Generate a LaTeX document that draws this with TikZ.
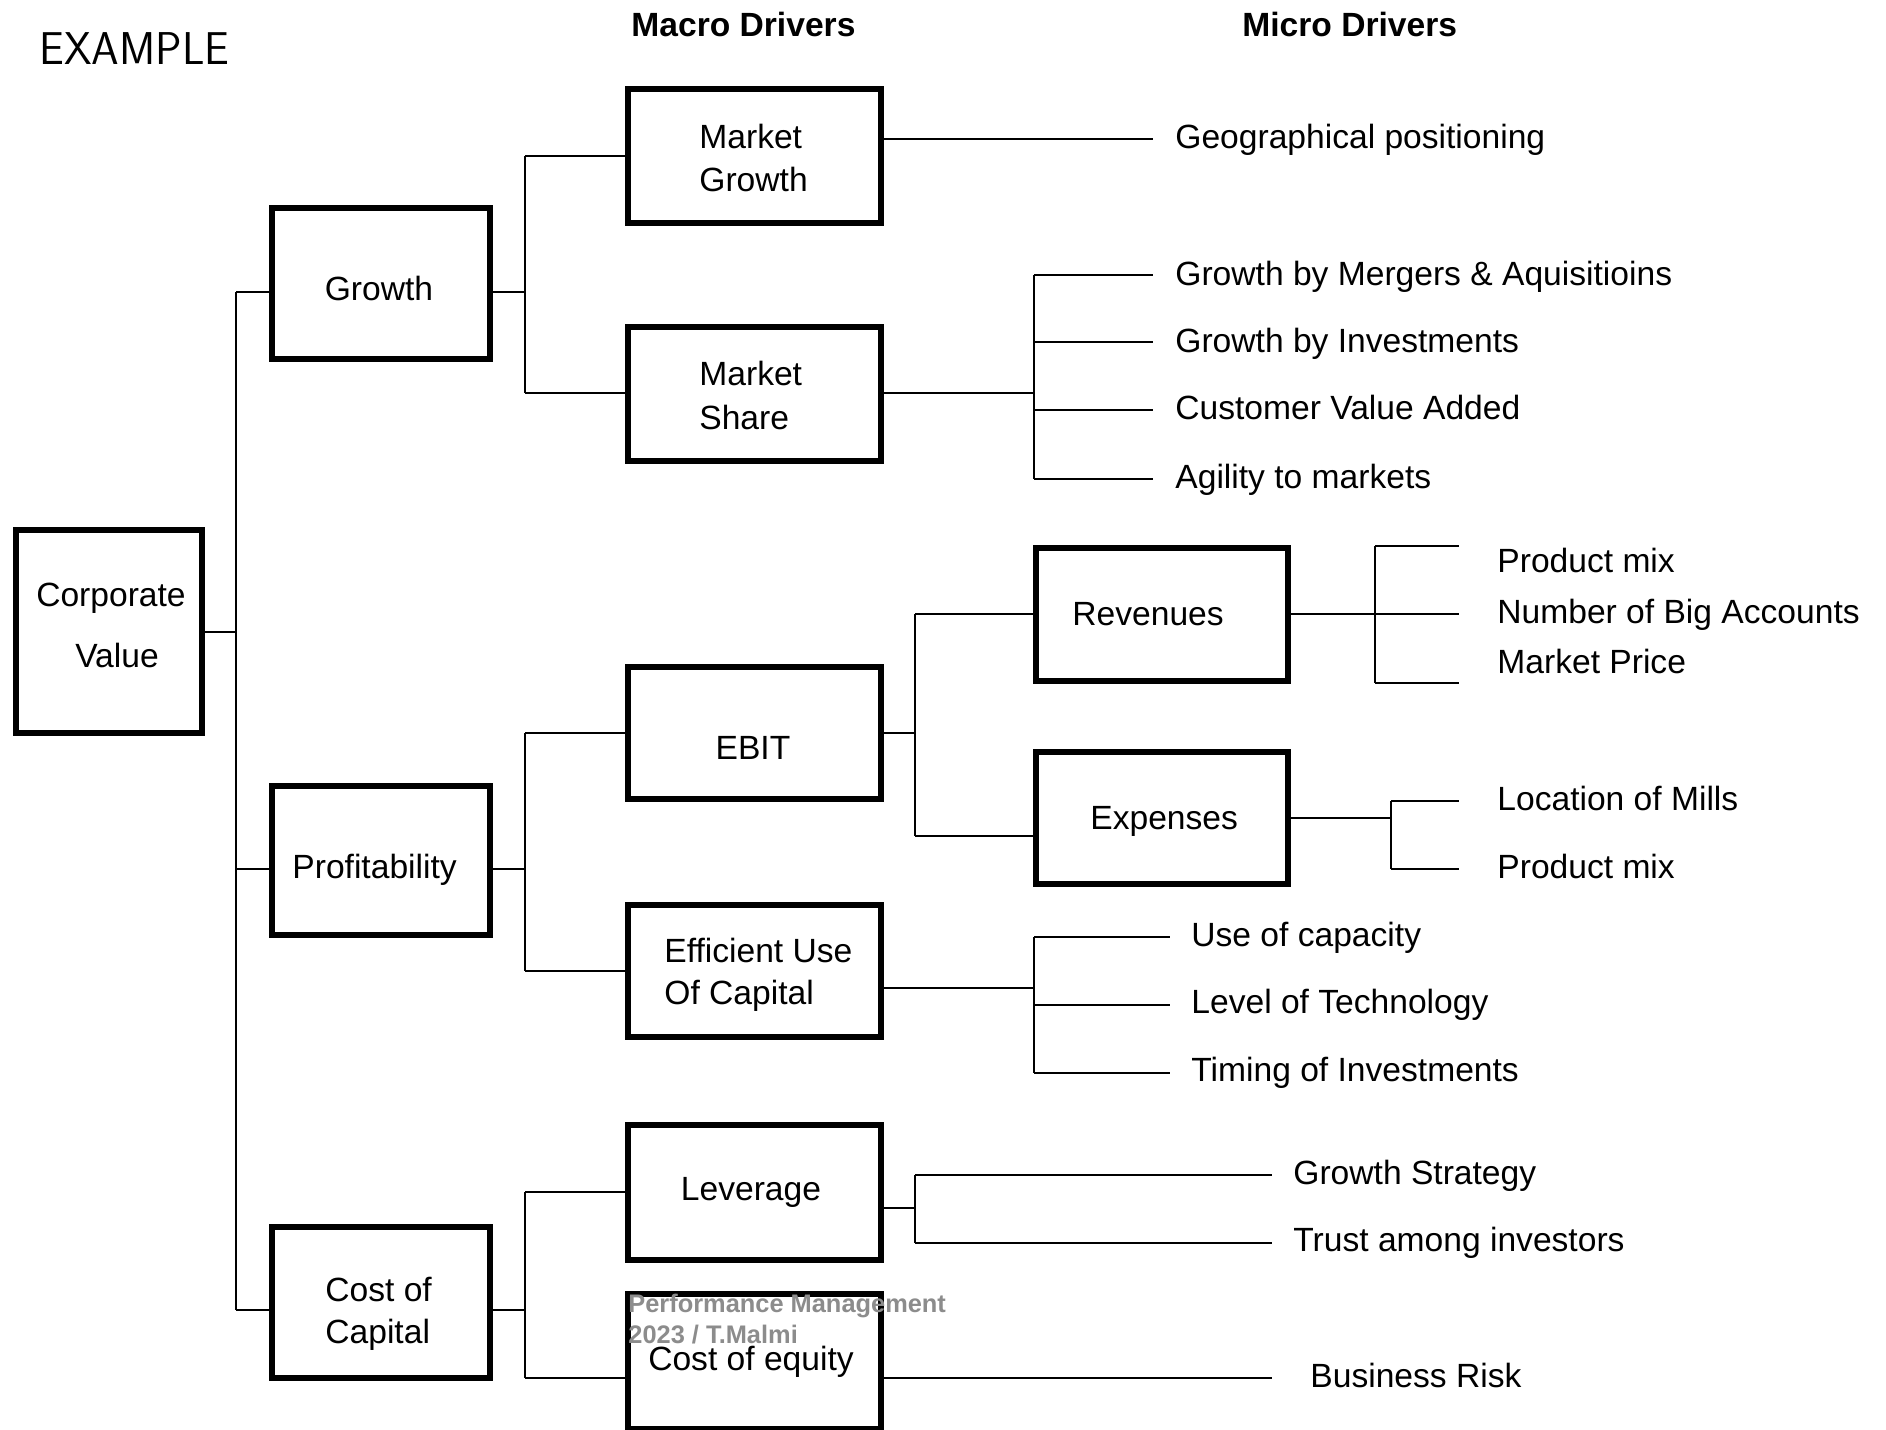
\documentclass[tikz,border=0pt]{standalone}
\usepackage{graphicx}
\usepackage{fontspec}
\setmainfont{Liberation Sans}
\definecolor{wmgray}{RGB}{140,140,140}
\begin{document}
\begin{tikzpicture}[x=0.5pt,y=-0.5pt,
  box/.style 2 args={draw=black, line width=3pt, fill=white, inner sep=0pt,
    minimum width={(#1-6)*0.5pt}, minimum height={(#2-6)*0.5pt}},
  conn/.style={line width=1.1pt, draw=black},
  txt/.style={inner sep=0pt, anchor=base west, font=\fontsize{16.8pt}{20pt}\selectfont},
  ctxt/.style={txt, anchor=base},
  hdr/.style={inner sep=0pt, anchor=base west, font=\fontsize{16.8pt}{20pt}\selectfont\bfseries},
  wm/.style={inner sep=0pt, anchor=base west, text=wmgray, font=\fontsize{12.7pt}{15pt}\selectfont\bfseries}]
\useasboundingbox (0,0) rectangle (1886,1430);
\fill[white] (0,0) rectangle (1886,1430);

% ---------- boxes ----------
\node[box={192}{209}] (cv) at (109,631.5) {};
\node[box={224}{157}] (gr) at (381,283.5) {};
\node[box={224}{155}] (pr) at (381,860.5) {};
\node[box={224}{157}] (cc) at (381,1302.5) {};
\node[box={259}{140}] (mg) at (754.5,156) {};
\node[box={259}{140}] (ms) at (754.5,394) {};
\node[box={259}{138}] (eb) at (754.5,733) {};
\node[box={259}{138}] (ef) at (754.5,971) {};
\node[box={259}{141}] (lv) at (754.5,1192.5) {};
\node[box={259}{141}] (ce) at (754.5,1361.5) {};
\node[box={258}{139}] (rv) at (1162,614.5) {};
\node[box={258}{138}] (ex) at (1162,818) {};

% ---------- coordinates of buses and free ends ----------
\coordinate (b1c) at (236,632);
\coordinate (b1t) at (236,292);
\coordinate (b1m) at (236,869);
\coordinate (b1b) at (236,1310);

\coordinate (g2) at (525,292);
\coordinate (g2t) at (525,156);
\coordinate (g2b) at (525,393);
\coordinate (p2) at (525,869);
\coordinate (p2t) at (525,733);
\coordinate (p2b) at (525,971);
\coordinate (c2) at (525,1310);
\coordinate (c2t) at (525,1192);
\coordinate (c2b) at (525,1378);

\coordinate (mgR) at (884,139);
\coordinate (geo) at (1153,139);

\coordinate (ms3) at (1034,393);
\coordinate (ms3t) at (1034,275);
\coordinate (ms3b) at (1034,479);
\coordinate (m1) at (1153,275);
\coordinate (m2) at (1153,342);
\coordinate (m3) at (1153,410);
\coordinate (m4) at (1153,479);

\coordinate (eb3) at (915,733);
\coordinate (eb3t) at (915,614);
\coordinate (eb3b) at (915,836);

\coordinate (ef3) at (1034,988);
\coordinate (ef3t) at (1034,937);
\coordinate (ef3b) at (1034,1073);
\coordinate (e1) at (1170,937);
\coordinate (e2) at (1170,1005);
\coordinate (e3) at (1170,1073);

\coordinate (lv3) at (915,1208);
\coordinate (lv3t) at (915,1175);
\coordinate (lv3b) at (915,1243);
\coordinate (l1) at (1272,1175);
\coordinate (l2) at (1272,1243);

\coordinate (ceR) at (1272,1378);

\coordinate (rv4) at (1375,614);
\coordinate (rv4t) at (1375,546);
\coordinate (rv4b) at (1375,683);
\coordinate (r1) at (1459,546);
\coordinate (r2) at (1459,614);
\coordinate (r3) at (1459,683);

\coordinate (ex4) at (1391,818);
\coordinate (ex4t) at (1391,801);
\coordinate (ex4b) at (1391,869);
\coordinate (x1) at (1459,801);
\coordinate (x2) at (1459,869);

% ---------- connectors ----------
\draw[conn] (cv.east |- b1c) -- (b1c);
\draw[conn] (b1t) -- (b1b);
\draw[conn] (b1t) -- (b1t -| gr.west);
\draw[conn] (b1m) -- (b1m -| pr.west);
\draw[conn] (b1b) -- (b1b -| cc.west);

\draw[conn] (gr.east |- g2) -- (g2);
\draw[conn] (g2t) -- (g2b);
\draw[conn] (g2t) -- (g2t -| mg.west);
\draw[conn] (g2b) -- (g2b -| ms.west);

\draw[conn] (pr.east |- p2) -- (p2);
\draw[conn] (p2t) -- (p2b);
\draw[conn] (p2t) -- (p2t -| eb.west);
\draw[conn] (p2b) -- (p2b -| ef.west);

\draw[conn] (cc.east |- c2) -- (c2);
\draw[conn] (c2t) -- (c2b);
\draw[conn] (c2t) -- (c2t -| lv.west);
\draw[conn] (c2b) -- (c2b -| ce.west);

\draw[conn] (mg.east |- mgR) -- (geo);

\draw[conn] (ms.east |- ms3) -- (ms3);
\draw[conn] (ms3t) -- (ms3b);
\draw[conn] (ms3t) -- (m1);
\draw[conn] (ms3 |- m2) -- (m2);
\draw[conn] (ms3 |- m3) -- (m3);
\draw[conn] (ms3b) -- (m4);

\draw[conn] (eb.east |- eb3) -- (eb3);
\draw[conn] (eb3t) -- (eb3b);
\draw[conn] (eb3t) -- (eb3t -| rv.west);
\draw[conn] (eb3b) -- (eb3b -| ex.west);

\draw[conn] (ef.east |- ef3) -- (ef3);
\draw[conn] (ef3t) -- (ef3b);
\draw[conn] (ef3t) -- (e1);
\draw[conn] (ef3 |- e2) -- (e2);
\draw[conn] (ef3b) -- (e3);

\draw[conn] (lv.east |- lv3) -- (lv3);
\draw[conn] (lv3t) -- (lv3b);
\draw[conn] (lv3t) -- (l1);
\draw[conn] (lv3b) -- (l2);

\draw[conn] (ce.east |- ceR) -- (ceR);

\draw[conn] (rv.east |- r2) -- (r2);
\draw[conn] (rv4t) -- (rv4b);
\draw[conn] (rv4t) -- (r1);
\draw[conn] (rv4b) -- (r3);

\draw[conn] (ex.east |- ex4) -- (ex4);
\draw[conn] (ex4t) -- (ex4b);
\draw[conn] (ex4t) -- (x1);
\draw[conn] (ex4b) -- (x2);

% ---------- headers ----------
\node[inner sep=0pt, anchor=base west, font=\sffamily\fontsize{23pt}{26pt}\selectfont] (example) at (39,64) {\scalebox{0.96}[1]{EXAMPLE}};
\node[hdr] (hmacro) at (631,36) {Macro Drivers};
\node[hdr] (hmicro) at (1242,36) {Micro Drivers};

% ---------- box texts ----------
\node[ctxt] (tcv1) at (111,606) {Corporate};
\node[ctxt] (tcv2) at (117,667) {Value};
\node[ctxt] (tgr) at (379,300) {Growth};
\node[txt] (tpr) at (292,878) {Profitability};
\node[txt] (tcc1) at (325,1301) {Cost of};
\node[txt] (tcc2) at (325,1343) {Capital};
\node[txt] (tmg1) at (699,148) {Market};
\node[txt] (tmg2) at (699,191) {Growth};
\node[txt] (tms1) at (699,385) {Market};
\node[txt] (tms2) at (699,429) {Share};
\node[ctxt] (teb) at (753,759) {EBIT};
\node[txt] (tef1) at (664,962) {Efficient Use};
\node[txt] (tef2) at (664,1004) {Of Capital};
\node[ctxt] (tlv) at (751,1200) {Leverage};
\node[ctxt] (tce) at (751,1370) {Cost of equity};
\node[txt] (trv) at (1072,625) {Revenues};
\node[txt] (tex) at (1090,829) {Expenses};

% ---------- micro driver texts ----------
\node[txt] (d1) at (1175,148) {Geographical positioning};
\node[txt] (d2) at (1175,285) {Growth by Mergers \& Aquisitioins};
\node[txt] (d3) at (1175,352) {Growth by Investments};
\node[txt] (d4) at (1175,419) {Customer Value Added};
\node[txt] (d5) at (1175,488) {Agility to markets};
\node[txt] (d6) at (1497,572) {Product mix};
\node[txt] (d7) at (1497,623) {Number of Big Accounts};
\node[txt] (d8) at (1497,673) {Market Price};
\node[txt] (d9) at (1497,810) {Location of Mills};
\node[txt] (d10) at (1497,878) {Product mix};
\node[txt] (d11) at (1191,946) {Use of capacity};
\node[txt] (d12) at (1191,1013) {Level of Technology};
\node[txt] (d13) at (1191,1081) {Timing of Investments};
\node[txt] (d14) at (1293,1184) {Growth Strategy};
\node[txt] (d15) at (1293,1251) {Trust among investors};
\node[txt] (d16) at (1310,1387) {Business Risk};

% ---------- watermark ----------
\node[wm] (wm1) at (628,1312) {Performance Management};
\node[wm] (wm2) at (628,1343) {2023 / T.Malmi};
\end{tikzpicture}
\end{document}
